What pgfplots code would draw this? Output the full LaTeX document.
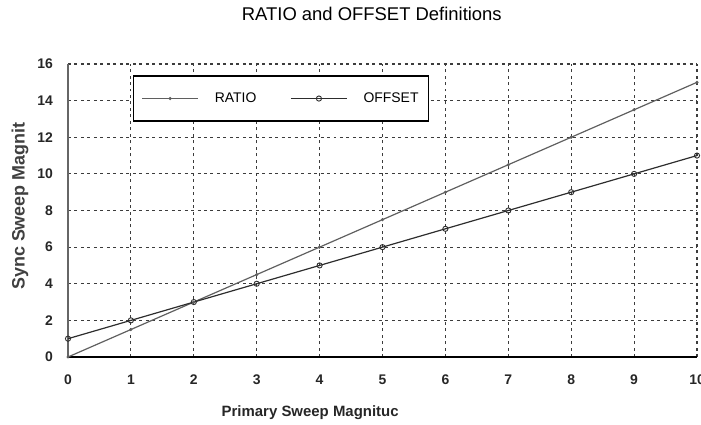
\documentclass[border=0pt]{standalone}
\usepackage{fontspec}
\setmainfont{Liberation Sans}
\usepackage{pgfplots}
\pgfplotsset{compat=1.18}
\definecolor{ratioc}{RGB}{95,95,95}
\definecolor{offc}{RGB}{45,45,45}
\definecolor{gridc}{RGB}{60,60,60}
\begin{document}
\begin{tikzpicture}
\begin{axis}[
  scale only axis, width=629bp, height=293bp,
  xmin=0, xmax=10, ymin=0, ymax=16,
  xtick={0,...,10}, ytick={0,2,...,16},
  axis x line*=bottom, axis y line*=left,
  x axis line style={black, line width=1.6pt, -},
  y axis line style={gray!80!black, line width=2.6pt, -},
  grid=both, major grid style={gridc, dashed, line width=1.2pt, dash pattern=on 3pt off 3.5pt},
  major tick length=0pt,
  tick style={draw=none},
  ticklabel style={font=\fontsize{14}{15}\selectfont\bfseries, text=black!85, inner sep=0pt},
  /pgf/number format/assume math mode=true,
  xticklabel style={anchor=center, yshift=-23bp},
  yticklabel style={anchor=east, xshift=-15bp},
  title={RATIO and OFFSET Definitions},
  title style={font=\fontsize{18.5}{20}\selectfont, at={(rel axis cs:0.483,1.15)}, anchor=center, yshift=0pt},
  xlabel={Primary Sweep Magnituc},
  ylabel={Sync Sweep Magnit},
  xlabel style={font=\fontsize{15}{16}\selectfont\bfseries, text=black!85, at={(rel axis cs:0.385,-0.19)}, anchor=center},
  ylabel style={font=\fontsize{18}{19}\selectfont\bfseries, text=black!75, at={(rel axis cs:-0.0763,0.515)}, anchor=center},
  legend columns=2,
  legend style={at={(0.103,0.962)}, anchor=north west, draw=black, line width=1.6pt,
    font=\fontsize{14}{15}\selectfont, inner xsep=8bp, inner ysep=15bp,
    /tikz/every odd column/.append style={column sep=14bp},
    /tikz/every even column/.append style={column sep=32bp}},
  legend image code/.code={\draw[#1, mark repeat=2, mark phase=2] plot coordinates {(0bp,0bp) (28bp,0bp) (56bp,0bp)};},
  clip=false,
]
\coordinate (bl) at (rel axis cs:0,0);
\coordinate (tr) at (rel axis cs:1,1);
\addplot[ratioc, line width=1.2pt, mark=*, mark size=0.9pt, mark options={fill=ratioc!60}] coordinates {
(0,0) (1,1.5) (2,3) (3,4.5) (4,6) (5,7.5) (6,9) (7,10.5) (8,12) (9,13.5) (10,15)};
\addlegendentry{RATIO}
\addplot[offc, line width=1.2pt, mark=o, mark size=2.6pt, mark options={line width=0.9pt, fill=white}] coordinates {
(0,1) (1,2) (2,3) (3,4) (4,5) (5,6) (6,7) (7,8) (8,9) (9,10) (10,11)};
\addlegendentry{OFFSET}
\end{axis}
\pgfresetboundingbox
\path ([xshift=-68bp,yshift=-68bp]bl) rectangle ([xshift=4bp,yshift=64bp]tr);
\end{tikzpicture}
\end{document}
